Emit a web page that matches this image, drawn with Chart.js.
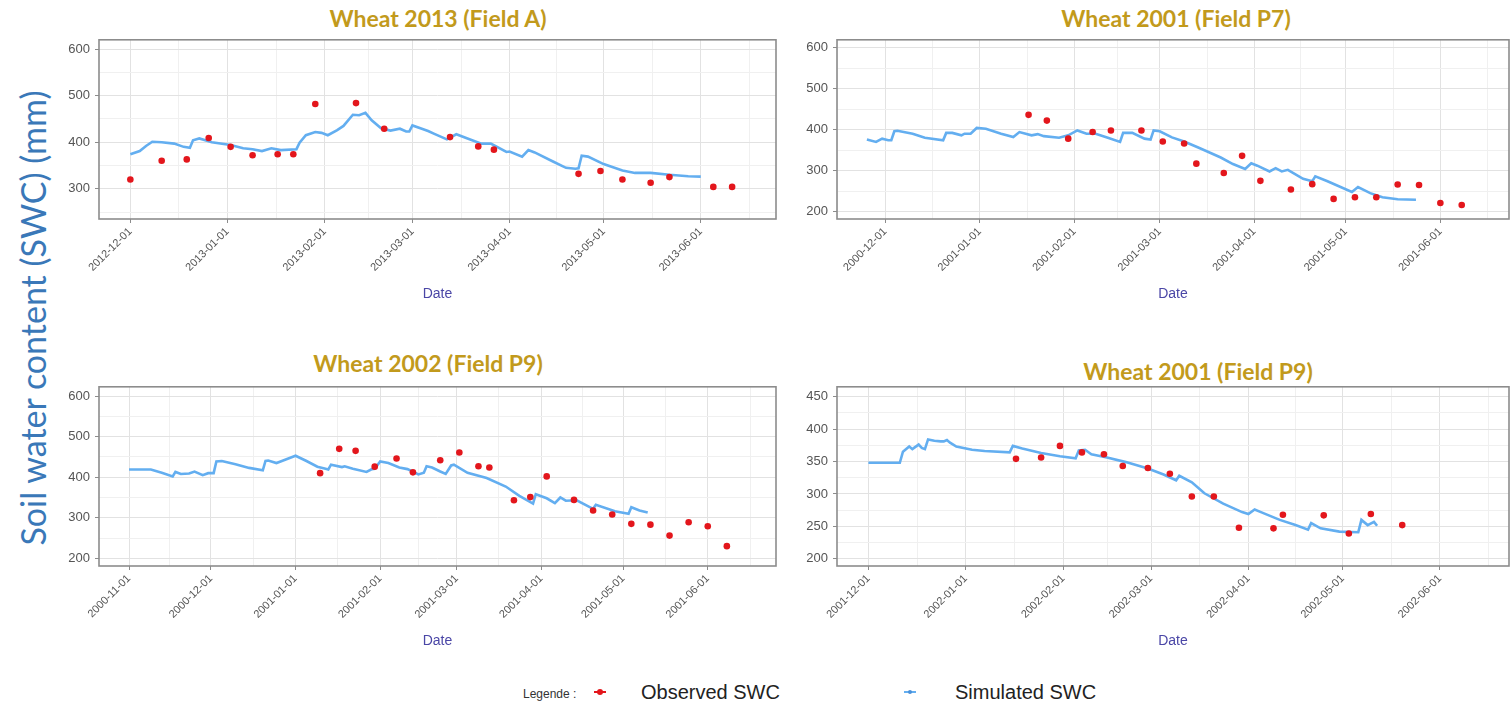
<!DOCTYPE html>
<html>
<head>
<meta charset="utf-8">
<script src="https://cdn.jsdelivr.net/npm/chart.js@4.4.1/dist/chart.umd.min.js"></script>
<style>
    html, body { margin: 0; padding: 0; background: #fff; }
    body { width: 1512px; height: 706px; overflow: hidden; position: relative; font-family: 'Liberation Sans', Arial, sans-serif; }
    canvas { position: absolute; }
    .panel-title { position: absolute; font: bold 23px Lato, sans-serif; color: #c29a1c; white-space: nowrap; line-height: 1; transform: translate(-50%, -50%); }
    .swc-label { position: absolute; left: 33px; top: 318px; font: 34px Lato, sans-serif; color: #3a78b8; white-space: nowrap; line-height: 1; transform: translate(-50%, -50%) rotate(-90deg); }
    .leg { position: absolute; white-space: nowrap; line-height: 1; transform: translateY(-50%); }
    .leg-key { position: absolute; width: 12px; height: 2px; transform: translate(-50%, -50%); }
    .leg-key i { position: absolute; left: 50%; top: 50%; border-radius: 50%; transform: translate(-50%, -50%); }
</style>
</head>
<body>
<div class="swc-label">Soil water content (SWC) (mm)</div>

<div class="leg" style="left:523px; top:694px; font-size:12px; color:#333">Legende :</div>
<div class="leg-key" style="left:600px; top:692px; background:#e3161c"><i style="width:6px; height:6px; background:#e3161c"></i></div>
<div class="leg" style="left:641px; top:692px; font-size:20px; color:#222">Observed SWC</div>
<div class="leg-key" style="left:910px; top:692px; background:#63aef0"><i style="width:4px; height:4px; background:#4a90d9"></i></div>
<div class="leg" style="left:955px; top:692px; font-size:20px; color:#222">Simulated SWC</div>

<script>
// x values are days after the first month label of each panel, y values in mm

// Wheat 2013 (Field A)
const a2013Months = ['2012-12-01', '2013-01-01', '2013-02-01', '2013-03-01', '2013-04-01', '2013-05-01', '2013-06-01']
const a2013YTicks = [300, 400, 500, 600]
const a2013ObsDay = [0, 10, 18, 25, 32, 39, 47, 52, 59, 72, 81, 102, 111, 116, 143, 150, 157, 166, 172, 186, 192]
const a2013ObsSwc = [320, 360, 363, 409, 390, 372, 374, 374, 482, 484, 429, 411, 391, 384, 332, 338, 320, 313, 325, 304, 304]
const a2013SimDay = [0, 3, 5, 7, 10, 14, 17, 19, 20, 22, 26, 32, 36, 39, 42, 45, 48, 53, 54, 56, 59, 61, 63, 66, 68, 71, 73, 75, 77, 80, 83, 86, 88, 89, 90, 93, 95, 97, 101, 104, 108, 112, 115, 120, 121, 125, 127, 129, 135, 139, 142, 143, 144, 146, 151, 157, 161, 166, 172, 178, 182]
const a2013SimSwc = [374, 381, 392, 401, 400, 397, 390, 388, 404, 408, 400, 394, 387, 385, 381, 387, 383, 385, 399, 415, 422, 420, 415, 426, 435, 459, 458, 463, 447, 430, 425, 429, 423, 423, 436, 429, 424, 418, 406, 417, 407, 397, 397, 379, 380, 369, 383, 378, 358, 345, 343, 344, 371, 369, 353, 339, 334, 334, 330, 327, 326]

// Wheat 2001 (Field P7)
const p7Months = ['2000-12-01', '2001-01-01', '2001-02-01', '2001-03-01', '2001-04-01', '2001-05-01', '2001-06-01']
const p7YTicks = [200, 300, 400, 500, 600]
const p7ObsDay = [47, 53, 60, 68, 74, 84, 91, 98, 102, 111, 117, 123, 133, 140, 147, 154, 161, 168, 175, 182, 189]
const p7ObsSwc = [436, 422, 378, 394, 398, 398, 371, 366, 317, 294, 336, 275, 254, 267, 231, 235, 235, 266, 265, 221, 216]
const p7SimDay = [-6, -3, -1, 1, 2, 3, 4, 9, 13, 19, 20, 22, 25, 26, 28, 30, 33, 38, 42, 44, 48, 50, 52, 57, 60, 63, 66, 69, 73, 77, 78, 81, 85, 87, 88, 90, 94, 98, 103, 110, 114, 118, 120, 122, 126, 128, 130, 132, 137, 140, 141, 145, 153, 155, 159, 163, 168, 174]
const p7SimSwc = [376, 370, 378, 374, 374, 396, 397, 390, 380, 374, 392, 392, 386, 390, 390, 404, 402, 390, 382, 394, 386, 389, 384, 380, 386, 398, 390, 390, 380, 370, 392, 392, 378, 376, 398, 396, 381, 371, 355, 332, 316, 304, 318, 312, 298, 306, 298, 302, 280, 274, 286, 274, 248, 260, 245, 235, 230, 229]

// Wheat 2002 (Field P9)
const p9aMonths = ['2000-11-01', '2000-12-01', '2001-01-01', '2001-02-01', '2001-03-01', '2001-04-01', '2001-05-01', '2001-06-01']
const p9aYTicks = [200, 300, 400, 500, 600]
const p9aObsDay = [70, 77, 83, 90, 98, 104, 114, 121, 128, 132, 141, 147, 153, 163, 170, 177, 184, 191, 198, 205, 212, 219]
const p9aObsSwc = [410, 470, 465, 426, 446, 412, 442, 461, 427, 424, 343, 351, 402, 344, 318, 308, 285, 283, 256, 289, 279, 230]
const p9aSimDay = [0, 8, 12, 16, 17, 19, 22, 24, 27, 29, 31, 32, 34, 39, 44, 49, 50, 51, 54, 56, 61, 65, 69, 72, 73, 74, 78, 79, 82, 87, 89, 90, 92, 95, 99, 102, 106, 108, 109, 111, 114, 116, 118, 119, 124, 131, 138, 143, 148, 149, 153, 156, 158, 160, 164, 170, 171, 178, 183, 184, 187, 190]
const p9aSimSwc = [419, 419, 411, 402, 413, 408, 409, 414, 405, 410, 410, 439, 440, 432, 423, 417, 440, 441, 435, 440, 453, 440, 426, 421, 419, 431, 425, 427, 421, 413, 420, 421, 439, 435, 424, 420, 407, 411, 427, 424, 414, 408, 429, 431, 411, 398, 377, 354, 335, 358, 348, 336, 350, 342, 343, 322, 332, 316, 310, 326, 318, 313]

// Wheat 2001 (Field P9)
const p9bMonths = ['2001-12-01', '2002-01-01', '2002-02-01', '2002-03-01', '2002-04-01', '2002-05-01', '2002-06-01']
const p9bYTicks = [200, 250, 300, 350, 400, 450]
const p9bObsDay = [47, 55, 61, 68, 75, 81, 89, 96, 103, 110, 118, 129, 132, 145, 153, 160, 170]
const p9bObsSwc = [354, 356, 374, 364, 361, 343, 340, 331, 296, 296, 248, 247, 268, 267, 239, 269, 252]
const p9bSimDay = [0, 10, 11, 13, 14, 16, 17, 18, 19, 21, 23, 24, 25, 26, 28, 33, 37, 45, 46, 49, 55, 61, 66, 67, 69, 71, 76, 82, 89, 94, 98, 99, 103, 107, 113, 119, 121, 123, 125, 131, 136, 140, 141, 144, 150, 156, 157, 159, 161, 162]
const p9bSimSwc = [348, 348, 365, 373, 369, 376, 371, 369, 384, 382, 381, 381, 383, 379, 373, 368, 366, 364, 374, 370, 363, 358, 355, 367, 368, 361, 356, 349, 339, 330, 321, 328, 318, 301, 285, 272, 269, 276, 272, 260, 252, 245, 255, 247, 242, 241, 260, 252, 257, 251]

const panels = [
    { title: 'Wheat 2013 (Field A)', titleX: 438, titleY: 18, left: 55, top: 27, width: 725,
      months: a2013Months, yTicks: a2013YTicks, xMin: -10, xMax: 206, yMin: 235, yMax: 620,
      obsDay: a2013ObsDay, obsSwc: a2013ObsSwc, simDay: a2013SimDay, simSwc: a2013SimSwc },
    { title: 'Wheat 2001 (Field P7)', titleX: 1176, titleY: 18, left: 793, top: 27, width: 720,
      months: p7Months, yTicks: p7YTicks, xMin: -15.8, xMax: 204.5, yMin: 182, yMax: 619,
      obsDay: p7ObsDay, obsSwc: p7ObsSwc, simDay: p7SimDay, simSwc: p7SimSwc },
    { title: 'Wheat 2002 (Field P9)', titleX: 428, titleY: 363, left: 55, top: 374, width: 725,
      months: p9aMonths, yTicks: p9aYTicks, xMin: -11, xMax: 237, yMin: 181, yMax: 623,
      obsDay: p9aObsDay, obsSwc: p9aObsSwc, simDay: p9aSimDay, simSwc: p9aSimSwc },
    { title: 'Wheat 2001 (Field P9)', titleX: 1198, titleY: 371, left: 793, top: 374, width: 720,
      months: p9bMonths, yTicks: p9bYTicks, xMin: -10, xMax: 204, yMin: 189, yMax: 465,
      obsDay: p9bObsDay, obsSwc: p9bObsSwc, simDay: p9bSimDay, simSwc: p9bSimSwc },
]

const DAY = 86400000
const dayOf = (start, date) => Math.round((Date.parse(date) - Date.parse(start)) / DAY)

// ggplot style minor breaks: half way between the major ones
function withMinor(major, min, max) {
    const all = [...major]
    for (let i = 0; i < major.length - 1; i++) all.push((major[i] + major[i + 1]) / 2)
    const n = major.length
    const before = major[0] - (major[1] - major[0]) / 2
    const after = major[n - 1] + (major[n - 1] - major[n - 2]) / 2
    if (before >= min) all.push(before)
    if (after <= max) all.push(after)
    return all.sort((a, b) => a - b)
}

const panelBorder = {
    id: 'panelBorder',
    afterDatasetsDraw(chart) {
        const { ctx, chartArea: a } = chart
        ctx.save()
        ctx.strokeStyle = '#8c8c8c'
        ctx.lineWidth = 1.6
        ctx.strokeRect(a.left, a.top, a.width, a.height)
        ctx.restore()
    },
}

const tickFont = { family: "'Liberation Sans', Arial, sans-serif" }

panels.forEach(p => {
    const title = document.createElement('div')
    title.className = 'panel-title'
    title.style.left = p.titleX + 'px'
    title.style.top = p.titleY + 'px'
    title.textContent = p.title
    document.body.appendChild(title)

    const canvas = document.createElement('canvas')
    canvas.width = p.width
    canvas.height = 280
    canvas.style.left = p.left + 'px'
    canvas.style.top = p.top + 'px'
    document.body.appendChild(canvas)

    const xMajor = p.months.map(m => dayOf(p.months[0], m))
    const xLabels = new Map(xMajor.map((d, i) => [d, p.months[i]]))
    const xTicks = withMinor(xMajor, p.xMin, p.xMax)
    const yTicks = withMinor(p.yTicks, p.yMin, p.yMax)
    const yMajor = new Set(p.yTicks)

    new Chart(canvas, {
        type: 'scatter',
        data: {
            datasets: [
                {
                    label: 'Observed SWC',
                    data: p.obsDay.map((d, i) => ({ x: d, y: p.obsSwc[i] })),
                    backgroundColor: '#e3161c',
                    borderWidth: 0,
                    pointRadius: 3.3,
                },
                {
                    label: 'Simulated SWC',
                    data: p.simDay.map((d, i) => ({ x: d, y: p.simSwc[i] })),
                    showLine: true,
                    borderColor: '#63aef0',
                    borderWidth: 2.6,
                    pointRadius: 0,
                    tension: 0,
                },
            ],
        },
        options: {
            responsive: false,
            animation: false,
            layout: { padding: { top: 10, right: 4, left: 0, bottom: 0 } },
            plugins: { legend: { display: false }, tooltip: { enabled: false } },
            scales: {
                x: {
                    type: 'linear',
                    min: p.xMin,
                    max: p.xMax,
                    afterBuildTicks: axis => { axis.ticks = xTicks.map(v => ({ value: v })) },
                    afterFit: axis => { axis.height = 88 },
                    ticks: {
                        autoSkip: false,
                        minRotation: 45,
                        maxRotation: 45,
                        padding: 2,
                        color: '#555',
                        font: { ...tickFont, size: 11 },
                        callback: v => xLabels.get(v) || '',
                    },
                    grid: {
                        color: c => xLabels.has(c.tick.value) ? '#e2e2e2' : '#f0f0f0',
                        tickColor: c => xLabels.has(c.tick.value) ? '#8c8c8c' : 'rgba(0,0,0,0)',
                        tickLength: 4,
                    },
                    border: { display: false },
                    title: {
                        display: true,
                        text: 'Date',
                        color: '#4a46a6',
                        font: { ...tickFont, size: 14 },
                        padding: { top: 0, bottom: 4 },
                    },
                },
                y: {
                    min: p.yMin,
                    max: p.yMax,
                    afterBuildTicks: axis => { axis.ticks = yTicks.map(v => ({ value: v })) },
                    afterFit: axis => { axis.width = 44 },
                    ticks: {
                        autoSkip: false,
                        padding: 5,
                        color: '#555',
                        font: { ...tickFont, size: 13 },
                        callback: v => yMajor.has(v) ? String(v) : '',
                    },
                    grid: {
                        color: c => yMajor.has(c.tick.value) ? '#e2e2e2' : '#f0f0f0',
                        tickColor: c => yMajor.has(c.tick.value) ? '#8c8c8c' : 'rgba(0,0,0,0)',
                        tickLength: 4,
                    },
                    border: { display: false },
                },
            },
        },
        plugins: [panelBorder],
    })
})
</script>
</body>
</html>
